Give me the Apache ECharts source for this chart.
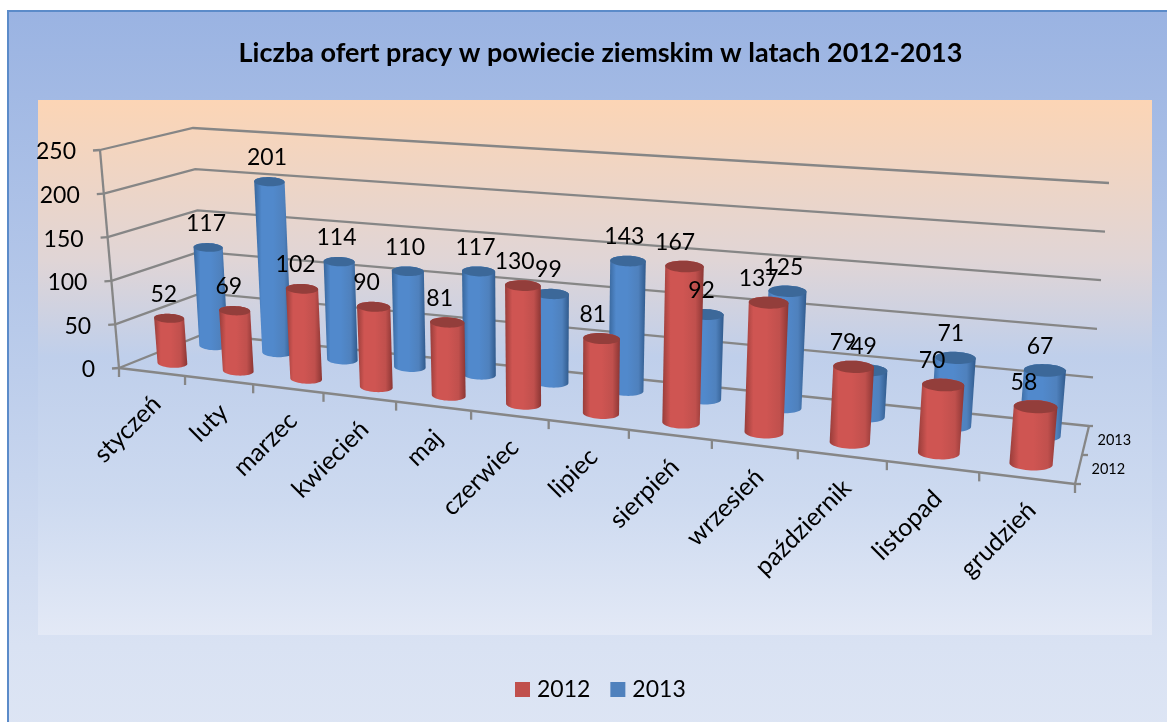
<!DOCTYPE html>
<html>
<head>
<meta charset="utf-8">
<title>Liczba ofert pracy</title>
<style>html,body{margin:0;padding:0;background:#fff}#c{width:1167px;height:722px}</style>
<script src="https://cdn.jsdelivr.net/npm/echarts@6/dist/echarts.min.js"></script>
</head>
<body>
<div id="c"></div>
<script>
const months = ['styczeń','luty','marzec','kwiecień','maj','czerwiec','lipiec','sierpień','wrzesień','październik','listopad','grudzień'];
const values2012 = [52,69,102,90,81,130,81,167,137,79,70,58];
const values2013 = [117,201,114,110,117,99,143,92,125,49,71,67];
const valueTicks = [0,50,100,150,200,250];
const seriesNames = ['2012','2013'];
const titleText = 'Liczba ofert pracy w powiecie ziemskim w latach 2012-2013';
const FONT = 'Lato, Carlito, "Open Sans", sans-serif';

// Perspective frame of the 3D box (screen position of its corners)
const BOX = {
  base: {fl:[119,368], bl:[204,334], br:[1089,426], fr:[1075,484]},
  top:  {fl:[100,150], bl:[193,128], br:[1109,183], fr:[1097,234]}
};
const WARP = 1.225;
const warp = u => u / (u + WARP * (1 - u));
const mix = (a,b,t) => [a[0]+(b[0]-a[0])*t, a[1]+(b[1]-a[1])*t];
function quad(q,u,w){
  const t = warp(u);
  return mix(mix(q.fl,q.fr,t), mix(q.bl,q.br,t), w);
}
// u: along categories, w: depth, v: share of value axis
function P(u,w,v){ return mix(quad(BOX.base,u,w), quad(BOX.top,u,w), v); }
const lineStyle = {stroke:'#868686', lineWidth:2.3, fill:null};
function norm(params, pt){
  const c = params.coordSys;
  return [(pt[0]-c.x)/c.width, (c.y+c.height-pt[1])/c.height];
}
function poly(points){ return {type:'polyline', silent:true, shape:{points}, style:lineStyle}; }

// Grid planes and value-axis labels
function renderLevel(params, api){
  const n = norm(params, api.coord([0, api.value(1)]));
  const v = n[1];
  const a = P(0,0,v), b = P(0,1,v), c = P(1,1,v);
  const kids = [
    poly([a,b,c]),
    poly([a,[a[0]-7,a[1]+0.5]]),
    {type:'text', x:a[0]-24, y:a[1]+2, silent:true,
      style:{text:String(api.value(1)), fontFamily:FONT, fontSize:23, fill:'#000', align:'right', verticalAlign:'middle'}}
  ];
  if (params.dataIndex === 0) {
    const fr = P(1,0,0), mid = P(1,.5,0);
    kids.push(poly([a,fr]));
    kids.push(poly([fr,c]));
    kids.push(poly([a,P(0,0,1)]));
    kids.push(poly([a,[a[0],a[1]+9]]));
    kids.push(poly([fr,[fr[0],fr[1]+9]]));
    kids.push(poly([fr,[fr[0]+6,fr[1]]]));
    kids.push(poly([mid,[mid[0]+6,mid[1]]]));
    kids.push(poly([c,[c[0]+4,c[1]]]));
    seriesNames.forEach((s,i)=>{
      const p = P(1,i===0?.25:.75,0);
      kids.push({type:'text', x:p[0]+(i===0?13:12), y:p[1], silent:true,
        style:{text:s, fontFamily:FONT, fontSize:14.5, fill:'#000', align:'left', verticalAlign:'middle'}});
    });
  }
  return {type:'group', children:kids};
}
// Category ticks and rotated labels
function renderCategory(params, api){
  const i = api.value(0);
  const pt = api.coord([i,0]);
  const band = api.size([1,0])[0];
  const u = norm(params, pt)[0];
  const uEnd = norm(params, [pt[0]+band/2, pt[1]])[0];
  const kids = [];
  if (i < months.length-1){
    const e = P(uEnd,0,0);
    kids.push(poly([e,[e[0],e[1]+9]]));
  }
  const m = P(u,0,0);
  kids.push({type:'text', x:m[0]+5, y:m[1]+28, rotation:Math.PI/4, silent:true,
    style:{text:months[i], fontFamily:FONT, fontSize:25, fill:'#000', align:'right', verticalAlign:'middle'}});
  return {type:'group', children:kids};
}
const palette = {
  '2012': {flat:'#c0504d', edgeL:'#983d3a', mid:'#cf5552', edgeR:'#8b3634', top:'#933e3b'},
  '2013': {flat:'#4f81bd', edgeL:'#38669b', mid:'#5189cc', edgeR:'#305a8c', top:'#3c6899'}
};
function makeBar(name, w){
  const col = palette[name];
  return function(params, api){
    const pt = api.coord([api.value(0), api.value(1)]);
    const n = norm(params, pt);
    const u = n[0], v = n[1];
    const du = 0.23/12;
    const axis = vv => { const l=P(u-du,w,vv), r=P(u+du,w,vv); return [(r[0]-l[0])/2,(r[1]-l[1])/2*0.35]; };
    const c0 = P(u,w,0), c1 = P(u,w,v), a0 = axis(0), a1 = axis(v);
    const r0 = Math.hypot(a0[0],a0[1])*0.3, r1 = Math.hypot(a1[0],a1[1])*0.3;
    const ell = (c,a,r,th) => [c[0]+a[0]*Math.cos(th), c[1]+a[1]*Math.cos(th)+r*Math.sin(th)];
    const body = [], top = [];
    for (let k=0;k<=24;k++) body.push(ell(c0,a0,r0,k/24*Math.PI));
    for (let k=0;k<=24;k++) body.push(ell(c1,a1,r1,Math.PI+k/24*Math.PI));
    for (let k=0;k<48;k++) top.push(ell(c1,a1,r1,k/48*2*Math.PI));
    return {type:'group', children:[
      {type:'polygon', shape:{points:body}, style:{
        fill:new echarts.graphic.LinearGradient(0,0,1,0,[
          {offset:0,color:col.edgeL},{offset:.2,color:col.mid},{offset:.5,color:col.mid},
          {offset:.8,color:col.flat},{offset:1,color:col.edgeR}])}},
      {type:'polygon', shape:{points:top}, style:{fill:col.top}}
    ]};
  };
}
function makeValueLabel(w){
  return function(params, api){
    const n = norm(params, api.coord([api.value(0), api.value(1)]));
    const p = P(n[0],w,n[1]);
    const dx = w < .5 ? -5 - 7*n[0] : -2 - 3*n[0];
    return {type:'text', x:p[0]+dx, y:p[1]-24, silent:true,
      style:{text:String(api.value(1)), fontFamily:FONT, fontSize:23, fill:'#000', align:'center', verticalAlign:'middle'}};
  };
}
const pairs = arr => arr.map((v,i)=>[i,v]);
const custom = (o) => Object.assign({type:'custom', coordinateSystem:'cartesian2d', encode:{x:0,y:1}, animation:false, silent:true}, o);

const chart = echarts.init(document.getElementById('c'), null, {renderer:'canvas'});
chart.setOption({
  animation:false,
  backgroundColor:'#ffffff',
  title:{text:titleText, left:595.5, textAlign:'center', top:35,
    textStyle:{fontFamily:FONT, fontWeight:'bold', fontSize:27, color:'#000'}},
  legend:{data:[{name:'2012',icon:'rect'},{name:'2013',icon:'rect'}], left:515, top:678, padding:0, itemWidth:15, itemHeight:15, itemGap:20,
    textStyle:{fontFamily:FONT, fontSize:23, color:'#000', padding:[0,0,0,2]}, selectedMode:false},
  grid:{left:100, right:100, top:100, bottom:100},
  xAxis:{type:'category', data:months, show:false},
  yAxis:{type:'value', min:0, max:250, interval:50, show:false},
  graphic:[
    {type:'rect', z:-2, silent:true, shape:{x:8,y:11,width:1170,height:720},
      style:{stroke:'#5b8bc9', lineWidth:2, fill:new echarts.graphic.LinearGradient(0,0,0,1,[
        {offset:0,color:'#9ab3e2'},{offset:.5,color:'#bccdeb'},{offset:.88,color:'#d9e2f3'},{offset:1,color:'#dde5f4'}])}},
    {type:'rect', z:-1, silent:true, shape:{x:38,y:100,width:1114,height:535},
      style:{fill:new echarts.graphic.LinearGradient(0,0,0,1,[
        {offset:0,color:'#fcd5b5'},{offset:.3,color:'#e0d5d6'},{offset:.48,color:'#bfcfeb'},{offset:.75,color:'#cddaf0'},{offset:1,color:'#e3e9f6'}])}}
  ],
  series:[
    custom({name:'levels', z:1, data:valueTicks.map(t=>[0,t]), renderItem:renderLevel}),
    custom({name:'categories', z:1, data:months.map((m,i)=>[i,0]), renderItem:renderCategory}),
    custom({name:'2013', z:2, itemStyle:{color:palette['2013'].flat}, data:pairs(values2013), renderItem:makeBar('2013',.75)}),
    custom({name:'2012', z:3, itemStyle:{color:palette['2012'].flat}, data:pairs(values2012), renderItem:makeBar('2012',.25)}),
    custom({name:'labels 2012', z:4, data:pairs(values2012), renderItem:makeValueLabel(.25)}),
    custom({name:'labels 2013', z:4, data:pairs(values2013), renderItem:makeValueLabel(.75)})
  ]
});
</script>
</body>
</html>
